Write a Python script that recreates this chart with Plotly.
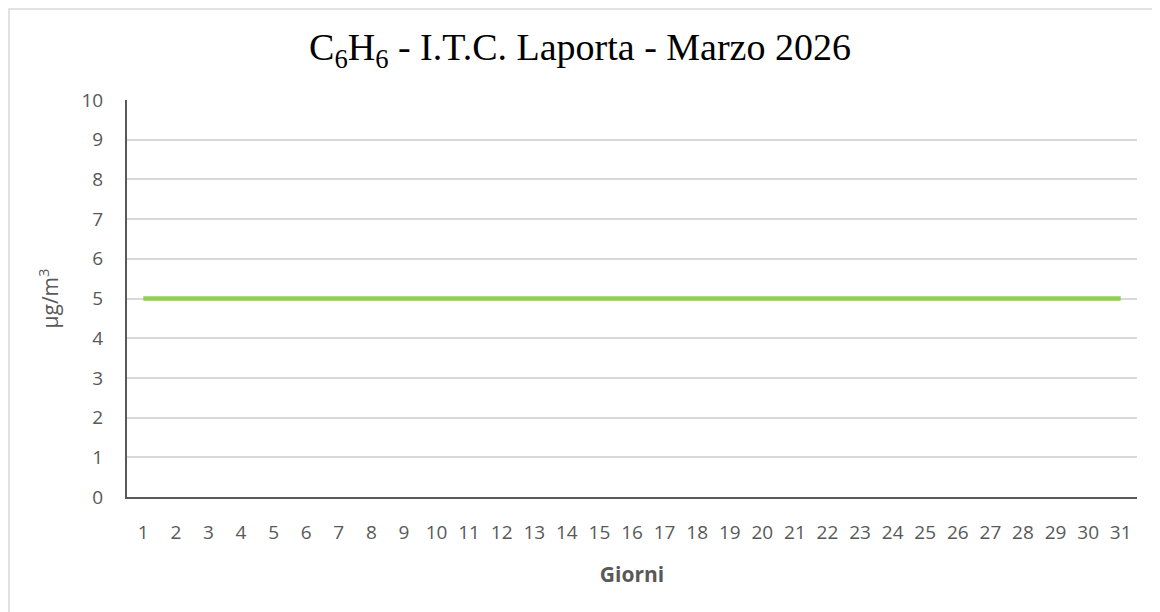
import plotly.graph_objects as go

# Daily benzene values, Marzo 2026
giorni = list(range(1, 32))
valori = [5] * 31
y_ticks = list(range(0, 11))

# the page body has an 8px margin, so the figure is drawn shifted by 8px
OFF = 8
L, R, T, B = 127 - OFF, 23 + OFF, 100 - OFF, 115 + OFF
W, H = 1160, 612
pw, ph = W - L - R, H - T - B

fig = go.Figure()
fig.add_trace(go.Scatter(
    x=giorni, y=valori, mode='lines',
    line=dict(color='#92d050', width=4.5),
    hoverinfo='skip', showlegend=False,
))

# light chart-area border, as in the spreadsheet export
fig.add_shape(
    type='rect', xref='paper', yref='paper',
    x0=(1 - L) / pw, x1=(1175 - L) / pw,
    y0=(H - B - 625) / ph, y1=(H - B - 1) / ph,
    line=dict(color='#d9d9d9', width=1.5), layer='below',
)

fig.update_layout(
    width=W, height=H,
    margin=dict(l=L, r=R, t=T, b=B),
    paper_bgcolor='white', plot_bgcolor='white',
    font=dict(family='Open Sans, Lato, sans-serif', color='#595959', size=18),
    title=dict(
        text='C<sub>6</sub>H<sub>6</sub> - I.T.C. Laporta - Marzo 2026',
        x=(580 - OFF - L) / pw, xref='paper', xanchor='center',
        y=1 - (47 - OFF) / H, yanchor='middle',
        font=dict(family='Liberation Serif, Times New Roman, serif', size=38, color='#000000'),
    ),
    xaxis=dict(
        range=[0.5, 31.5], tickmode='array', tickvals=giorni,
        ticktext=[str(g) for g in giorni],
        showgrid=False, zeroline=False,
        showline=True, linecolor='#595959', linewidth=2,
        ticks='', ticklabelstandoff=17, tickfont=dict(size=19),
        title=dict(text='<b>Giorni</b>', standoff=24, font=dict(size=21, color='#595959')),
        fixedrange=True,
    ),
    yaxis=dict(
        range=[0, 10], tickmode='array', tickvals=y_ticks,
        showgrid=True, gridcolor='#d9d9d9', gridwidth=1.5,
        zeroline=False,
        showline=True, linecolor='#595959', linewidth=2,
        ticks='', ticklabelstandoff=18, tickfont=dict(size=19),
        title=dict(text='µg/m<sup>3</sup>', standoff=17, font=dict(size=21, color='#595959')),
        fixedrange=True,
    ),
)

fig.write_html("out.html")
